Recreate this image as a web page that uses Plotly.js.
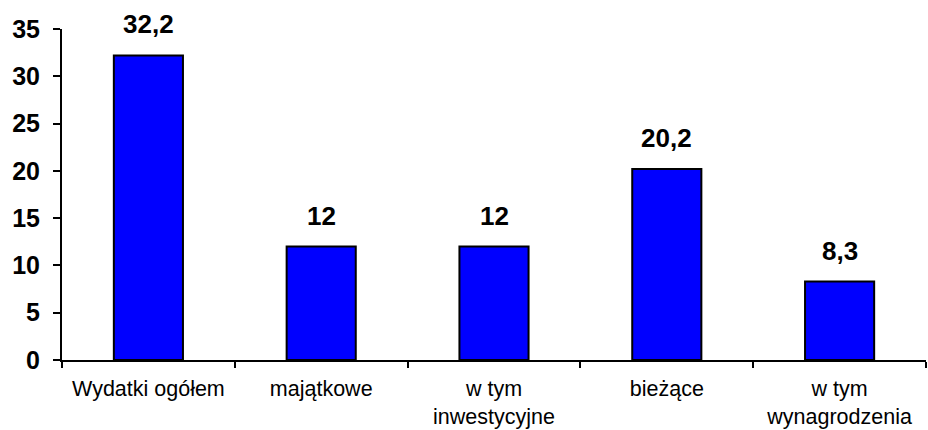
<!DOCTYPE html>
<html>
<head>
<meta charset="utf-8">
<script src="https://cdn.plot.ly/plotly-3.0.1.min.js"></script>
<style>
  html, body { margin: 0; padding: 0; background: #fff; }
  #chart { width: 928px; height: 430px; }
</style>
</head>
<body>
<div id="chart"></div>
<script>
// categories and values
const categories = [
  "Wydatki ogółem",
  "majątkowe",
  "w tym<br>inwestycyjne",
  "bieżące",
  "w tym<br>wynagrodzenia"
];
const values = [32.2, 12, 12, 20.2, 8.3];
const valueLabels = ["32,2", "12", "12", "20,2", "8,3"];
const yTicks = [0, 5, 10, 15, 20, 25, 30, 35];

const font = "Liberation Sans, Arial, sans-serif";

const trace = {
  type: "bar",
  x: categories,
  y: values,
  marker: { color: "#0000ff", line: { color: "#000", width: 2 } },
  width: 0.4,
  hoverinfo: "none"
};

const annotations = categories.map((c, i) => ({
  x: c,
  y: values[i],
  text: valueLabels[i],
  showarrow: false,
  yanchor: "bottom",
  yshift: 14,
  font: { family: font, size: 26, color: "#000", weight: "bold" }
}));

const layout = {
  width: 928,
  height: 430,
  margin: { l: 62, r: 2, t: 29, b: 70 },
  paper_bgcolor: "#fff",
  plot_bgcolor: "#fff",
  showlegend: false,
  xaxis: {
    type: "category",
    showline: true,
    linecolor: "#000",
    linewidth: 2,
    ticks: "outside",
    tickson: "boundaries",
    ticklen: 6,
    tickwidth: 2,
    tickcolor: "#000",
    showgrid: false,
    ticklabelstandoff: 8,
    tickfont: { family: font, size: 21.5, color: "#000" }
  },
  yaxis: {
    range: [0, 35],
    tickvals: yTicks,
    showline: true,
    linecolor: "#000",
    linewidth: 2,
    ticks: "outside",
    ticklen: 7,
    tickwidth: 2,
    tickcolor: "#000",
    showgrid: false,
    zeroline: false,
    ticklabelstandoff: 8,
    tickfont: { family: font, size: 25, color: "#000", weight: "bold" }
  },
  annotations: annotations
};

Plotly.newPlot("chart", [trace], layout, { staticPlot: true });
</script>
</body>
</html>
